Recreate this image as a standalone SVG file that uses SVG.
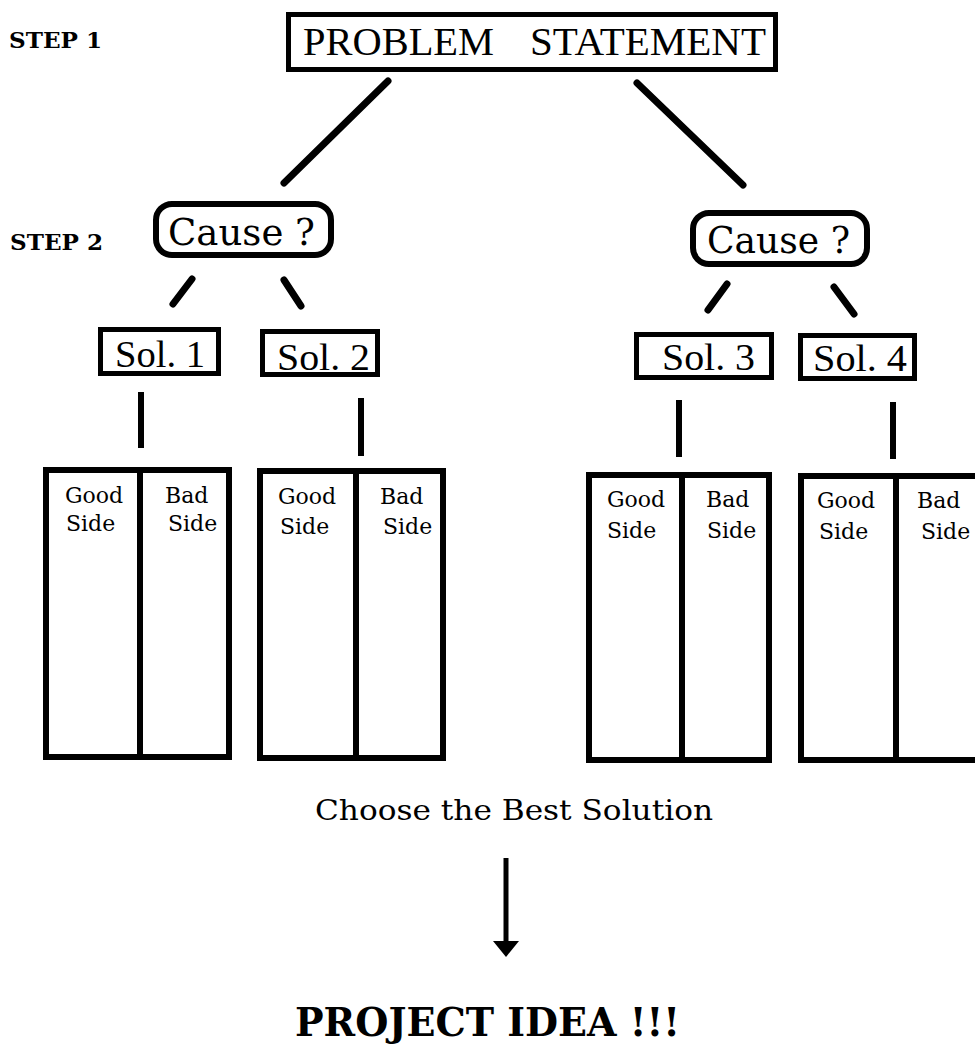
<svg xmlns="http://www.w3.org/2000/svg" width="975" height="1046" viewBox="0 0 975 1046">
<style>
.box{fill:#fff;stroke:#000;stroke-width:5}
.tbl{fill:#fff;stroke:#000;stroke-width:6}
.conn{stroke:#000;stroke-width:7;stroke-linecap:round;fill:none}
.vert{stroke:#000;stroke-width:6;fill:none}
.step{font-family:"DejaVu Serif",serif;font-weight:bold;font-size:22px;fill:#000}
.times{font-family:"Liberation Serif","Times New Roman",serif;fill:#000}
.book{font-family:"DejaVu Serif",serif;fill:#000}
.gb{font-family:"DejaVu Serif",serif;font-size:22px;fill:#000}
</style>
<rect width="975" height="1046" fill="#fff"/>
<g id="labels">
<text class="step" x="9" y="48" textLength="93" lengthAdjust="spacingAndGlyphs">STEP 1</text>
<text class="step" x="10" y="250" textLength="93" lengthAdjust="spacingAndGlyphs">STEP 2</text>
</g>
<g id="connectors">
<line class="conn" x1="388" y1="81" x2="284" y2="183"/>
<line class="conn" x1="637" y1="83" x2="743" y2="185"/>
<line class="conn" x1="192" y1="279" x2="173" y2="304"/>
<line class="conn" x1="284" y1="280" x2="301" y2="306"/>
<line class="conn" x1="727" y1="284" x2="708" y2="310"/>
<line class="conn" x1="834" y1="287" x2="854" y2="314"/>
<line class="vert" x1="141" y1="392" x2="141" y2="448"/>
<line class="vert" x1="361" y1="398" x2="361" y2="456"/>
<line class="vert" x1="679" y1="400" x2="679" y2="457"/>
<line class="vert" x1="893" y1="402" x2="893" y2="459"/>
<line x1="506" y1="858" x2="506" y2="944" stroke="#000" stroke-width="5"/>
<polygon points="493,941 519,941 506,957" fill="#000"/>
</g>
<g id="problem">
<rect class="box" x="288.5" y="14.5" width="487" height="55"/>
<text class="times" font-size="40" y="55"><tspan x="303" textLength="191" lengthAdjust="spacingAndGlyphs">PROBLEM</tspan><tspan x="530" textLength="236" lengthAdjust="spacingAndGlyphs">STATEMENT</tspan></text>
</g>
<g id="cause1">
<rect x="156" y="204" width="175" height="51" rx="16" fill="#fff" stroke="#000" stroke-width="6"/>
<text class="book" font-size="37" x="168" y="245" textLength="147" lengthAdjust="spacingAndGlyphs">Cause ?</text>
</g>
<g id="cause2">
<rect x="693" y="213" width="174" height="51" rx="16" fill="#fff" stroke="#000" stroke-width="6"/>
<text class="book" font-size="37" x="707" y="253" textLength="143" lengthAdjust="spacingAndGlyphs">Cause ?</text>
</g>
<g id="sol1">
<rect class="box" x="100.5" y="329.5" width="118" height="44"/>
<text class="times" font-size="37" x="115" y="367" textLength="90" lengthAdjust="spacingAndGlyphs">Sol. 1</text>
</g>
<g id="sol2">
<rect class="box" x="262.5" y="331.5" width="115" height="43"/>
<text class="times" font-size="37" x="277" y="370" textLength="93" lengthAdjust="spacingAndGlyphs">Sol. 2</text>
</g>
<g id="sol3">
<rect class="box" x="636.5" y="334.5" width="135" height="43"/>
<text class="times" font-size="37" x="662" y="370" textLength="93" lengthAdjust="spacingAndGlyphs">Sol. 3</text>
</g>
<g id="sol4">
<rect class="box" x="800.5" y="335.5" width="114" height="43"/>
<text class="times" font-size="37" x="813" y="371" textLength="94" lengthAdjust="spacingAndGlyphs">Sol. 4</text>
</g>
<g id="table1">
<rect class="tbl" x="46" y="470" width="183" height="287"/>
<line class="vert" x1="140" y1="470" x2="140" y2="757"/>
<text class="gb" x="65" y="503">Good</text>
<text class="gb" x="66" y="531">Side</text>
<text class="gb" x="165" y="503">Bad</text>
<text class="gb" x="168" y="531">Side</text>
</g>
<g id="table2">
<rect class="tbl" x="260" y="471" width="183" height="287"/>
<line class="vert" x1="356" y1="471" x2="356" y2="758"/>
<text class="gb" x="278" y="504">Good</text>
<text class="gb" x="280" y="534">Side</text>
<text class="gb" x="380" y="504">Bad</text>
<text class="gb" x="383" y="534">Side</text>
</g>
<g id="table3">
<rect class="tbl" x="589" y="475" width="180" height="285"/>
<line class="vert" x1="682" y1="475" x2="682" y2="760"/>
<text class="gb" x="607" y="507">Good</text>
<text class="gb" x="607" y="538">Side</text>
<text class="gb" x="706" y="507">Bad</text>
<text class="gb" x="707" y="538">Side</text>
</g>
<g id="table4">
<rect class="tbl" x="801" y="476" width="185" height="284"/>
<line class="vert" x1="896" y1="476" x2="896" y2="760"/>
<text class="gb" x="817" y="508">Good</text>
<text class="gb" x="819" y="539">Side</text>
<text class="gb" x="917" y="508">Bad</text>
<text class="gb" x="921" y="539">Side</text>
</g>
<g id="choose">
<text class="book" font-size="28" x="315" y="820" textLength="398" lengthAdjust="spacingAndGlyphs">Choose the Best Solution</text>
</g>
<g id="project">
<text class="book" font-size="40" font-weight="bold" x="295" y="1036" textLength="385" lengthAdjust="spacingAndGlyphs">PROJECT IDEA !!!</text>
</g>
</svg>
